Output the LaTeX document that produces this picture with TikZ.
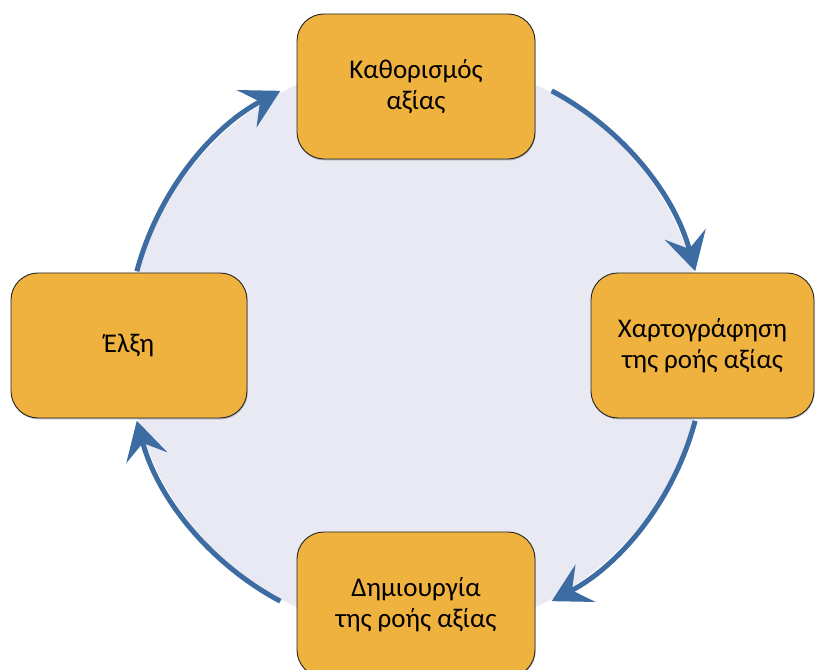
\documentclass[tikz,border=0pt]{standalone}
\usepackage{fontspec}
\setmainfont{Carlito}
\usetikzlibrary{arrows.meta,shadows}
\definecolor{discfill}{RGB}{232,233,242}
\definecolor{boxfill}{RGB}{240,178,62}
\definecolor{cyclearrow}{RGB}{61,108,163}
\begin{document}
\begin{tikzpicture}[x=1pt,y=1pt,
  stagebox/.style={draw=black!85, line width=0.9pt, fill=boxfill,
    rounded corners=27pt, minimum height=145pt, align=center,
    inner sep=0pt, font=\fontsize{27}{30.5}\selectfont,
    drop shadow={shadow xshift=0.6pt, shadow yshift=-1.4pt, opacity=0.35, fill=black!70}},
  cyc/.style={draw=cyclearrow, line width=5pt,
    -{Stealth[length=38pt, width=42pt, inset=15pt]}}]
  \useasboundingbox (0,0) rectangle (815,670);
  \clip (0,0) rectangle (815,670);
  \fill[white] (0,0) rectangle (815,670);

  % background disc
  \coordinate (ctr) at (416,324);
  \fill[discfill] (ctr) circle[radius=287];

  % cycle arcs, clockwise
  \draw[cyc] ([shift={(62:289)}]ctr) arc[start angle=62, end angle=15, radius=289];
  \draw[cyc] ([shift={(-15:289)}]ctr) arc[start angle=-15, end angle=-62, radius=289];
  \draw[cyc] ([shift={(242:289)}]ctr) arc[start angle=242, end angle=195, radius=289];
  \draw[cyc] ([shift={(165:289)}]ctr) arc[start angle=165, end angle=118, radius=289];

  % stages
  \node[stagebox, minimum width=238pt] (define) at (416,583.5) {Καθορισμός\\αξίας};
  \node[stagebox, minimum width=223pt] (map) at (702.5,324.5) {Χαρτογράφηση\\της ροής αξίας};
  \node[stagebox, minimum width=238pt] (flow) at (416,65.5) {Δημιουργία\\της ροής αξίας};
  \node[stagebox, minimum width=236pt] (pull) at (129,324.5) {Έλξη};
\end{tikzpicture}
\end{document}
